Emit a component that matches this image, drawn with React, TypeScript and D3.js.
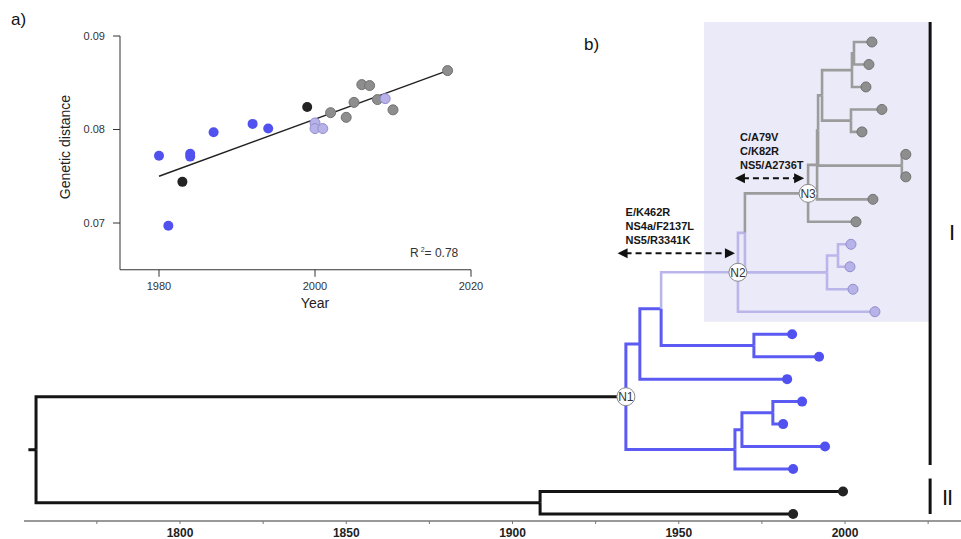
import * as d3 from 'd3';

// ---- panel a: root-to-tip regression ----
const scatterYears = [1980, 1981.2, 1983, 1984, 1984, 1987, 1992, 1994, 1999, 2000, 2000, 2001, 2002, 2004, 2005, 2006, 2007, 2008, 2009, 2010, 2017];
const scatterDist = [0.0772, 0.0697, 0.0744, 0.0771, 0.0774, 0.0797, 0.0806, 0.0801, 0.0824, 0.0807, 0.0801, 0.0801, 0.0818, 0.0813, 0.0829, 0.0848, 0.0847, 0.0832, 0.0833, 0.0821, 0.0863];
const scatterGroup = ['blue', 'blue', 'black', 'blue', 'blue', 'blue', 'blue', 'blue', 'black', 'lav', 'lav', 'lav', 'gray', 'gray', 'gray', 'gray', 'gray', 'gray', 'lav', 'gray', 'gray'];
const fitYears = [1980, 2017];
const fitDist = [0.075, 0.0863];
const scatterXTicks = [1980, 2000, 2020];
const scatterYTicks = [0.07, 0.08, 0.09];
const rSquared = '0.78';

// ---- panel b: time-scaled tree ----
// [id, parent, year, group]
const internalNodes: [string, string | null, number, string][] = [
  ['root', null, 1756.7, 'black'],
  ['N1', 'root', 1934.1, 'black'],
  ['S', 'root', 1908.3, 'black'],
  ['M', 'N1', 1938.3, 'blue'],
  ['P', 'N1', 1966.9, 'blue'],
  ['K', 'M', 1944.7, 'blue'],
  ['N2', 'K', 1967.8, 'lav'],
  ['L', 'K', 1972.6, 'blue'],
  ['B', 'N2', 1969.9, 'lav'],
  ['N3', 'B', 1988.9, 'gray'],
  ['C', 'B', 1994.6, 'lav'],
  ['D', 'C', 1997.9, 'lav'],
  ['E', 'N3', 1991.6, 'gray'],
  ['I', 'E', 1991.9, 'gray'],
  ['H', 'I', 1993.1, 'gray'],
  ['J', 'I', 2017.1, 'gray'],
  ['F2', 'H', 2002.1, 'gray'],
  ['G', 'H', 2001.8, 'gray'],
  ['F1', 'F2', 2002.7, 'gray'],
  ['Q', 'P', 1969.0, 'blue'],
  ['R', 'Q', 1978.3, 'blue'],
];
// tips, top to bottom
const tipNodes: [string, string, number, string][] = [
  ['t1', 'F1', 2008.1, 'gray'],
  ['t2', 'F1', 2007.2, 'gray'],
  ['t3', 'F2', 2006.3, 'gray'],
  ['t4', 'G', 2011.1, 'gray'],
  ['t5', 'G', 2005.1, 'gray'],
  ['t6', 'J', 2018.3, 'gray'],
  ['t7', 'J', 2018.3, 'gray'],
  ['t8', 'E', 2008.4, 'gray'],
  ['t9', 'N3', 2003.3, 'gray'],
  ['t10', 'D', 2001.8, 'lav'],
  ['t11', 'D', 2001.5, 'lav'],
  ['t12', 'C', 2002.4, 'lav'],
  ['t13', 'N2', 2009.0, 'lav'],
  ['t14', 'L', 1984.1, 'blue'],
  ['t15', 'L', 1992.2, 'blue'],
  ['t16', 'M', 1982.6, 'blue'],
  ['t17', 'R', 1987.1, 'blue'],
  ['t18', 'R', 1981.4, 'blue'],
  ['t19', 'Q', 1994.0, 'blue'],
  ['t20', 'P', 1984.4, 'blue'],
  ['t21', 'S', 1999.4, 'black'],
  ['t22', 'S', 1984.4, 'black'],
];
const labelledNodes = ['N1', 'N2', 'N3'];
const mutationsN2 = ['E/K462R', 'NS4a/F2137L', 'NS5/R3341K'];
const mutationsN3 = ['C/A79V', 'C/K82R', 'NS5/A2736T'];
const arrowN2 = [1931.6, 1966.9];
const arrowN3 = [1966.9, 1987.7];
const timeMajor = [1800, 1850, 1900, 1950, 2000];
const timeMinor = [1775, 1825, 1875, 1925, 1975, 2025];

const edgeColor: Record<string, string> = { black: '#141414', blue: '#5b5bf4', lav: '#bab6ea', gray: '#9c9c9c' };
const edgeWidth: Record<string, number> = { black: 3, blue: 3, lav: 2.6, gray: 2.6 };
const dotFill: Record<string, string> = { black: '#232323', blue: '#5151ef', lav: '#b7b3e8', gray: '#8e8e8e' };
const dotStroke: Record<string, string> = { black: 'none', blue: 'none', lav: '#928dd0', gray: '#727272' };

const FONT = '"Liberation Sans", Arial, Helvetica, sans-serif';

type TNode = d3.HierarchyNode<[string, string | null, number, string]> & { px?: number; py?: number };

export default function App() {
  const W = 961, H = 539;

  // scatter scales
  const sx = d3.scaleLinear().domain([1980, 2020]).range([159, 471]);
  const sy = d3.scaleLinear().domain([0.07, 0.09]).range([223, 36]);
  const axX0 = sx(1975), axY0 = sy(0.065);

  // tree scales
  const tx = d3.scaleLinear().domain([1800, 2000]).range([180, 845]);
  const ty = d3.scaleLinear().domain([0, tipNodes.length - 1]).range([42, 514]);
  const tipIndex = new Map(tipNodes.map((t, i) => [t[0], i]));

  const root = d3.stratify<[string, string | null, number, string]>()
    .id(d => d[0])
    .parentId(d => d[1])([...internalNodes, ...tipNodes]) as TNode;

  root.eachAfter((n: TNode) => {
    n.px = tx(n.data[2]);
    if (!n.children) {
      n.py = ty(tipIndex.get(n.data[0]) as number);
    } else {
      const ys = n.children.map((c: TNode) => c.py as number);
      n.py = ((d3.min(ys) as number) + (d3.max(ys) as number)) / 2;
    }
  });
  const nodes = root.descendants() as TNode[];
  const byId = new Map(nodes.map(n => [n.data[0], n]));
  const n2 = byId.get('N2') as TNode;
  const n3 = byId.get('N3') as TNode;

  const cladeX = tx(2025.6);
  const boxTop = ty(0) - 20;
  const boxBottom = ty(12) + 10;
  const axisY = 521;

  const arrow = (x0: number, x1: number, y: number, key: string) => (
    <g key={key}>
      <line x1={x0 + 8} x2={x1 - 8} y1={y} y2={y} stroke="#111" strokeWidth={2} strokeDasharray="6,4" />
      <path d={`M${x0},${y}L${x0 + 10},${y - 5}L${x0 + 10},${y + 5}Z`} fill="#111" />
      <path d={`M${x1},${y}L${x1 - 10},${y - 5}L${x1 - 10},${y + 5}Z`} fill="#111" />
    </g>
  );

  const mutText = (lines: string[], x: number, yArrow: number, key: string) => (
    <text key={key} x={x} fontFamily={FONT} fontSize={11} fontWeight="bold" fill="#161616">
      {lines.map((l, i) => (
        <tspan key={l} x={x} y={yArrow - 37 + i * 14}>{l}</tspan>
      ))}
    </text>
  );

  const yArrowN2 = (n2.py as number) - 19;
  const yArrowN3 = (n3.py as number) - 15;

  return (
    <svg width={W} height={H} style={{ position: 'absolute', left: 0, top: 0, background: '#fff' }} fontFamily={FONT}>
      {/* ---------- panel a ---------- */}
      <text x={11} y={25} fontSize={17} fill="#111">a)</text>
      <line x1={axX0} x2={axX0} y1={sy(0.09)} y2={axY0} stroke="#333" strokeWidth={1} />
      <line x1={axX0} x2={sx(2020)} y1={axY0} y2={axY0} stroke="#333" strokeWidth={1} />
      {scatterYTicks.map(t => (
        <g key={t}>
          <line x1={axX0 - 7} x2={axX0} y1={sy(t)} y2={sy(t)} stroke="#333" />
          <text x={axX0 - 15} y={sy(t)} dy="0.35em" textAnchor="end" fontSize={11} fill="#333">{d3.format('.2f')(t)}</text>
        </g>
      ))}
      {scatterXTicks.map(t => (
        <g key={t}>
          <line x1={sx(t)} x2={sx(t)} y1={axY0} y2={axY0 + 7} stroke="#333" />
          <text x={sx(t)} y={axY0 + 20} textAnchor="middle" fontSize={11} fill="#333">{t}</text>
        </g>
      ))}
      <text transform={`translate(70,147) rotate(-90)`} textAnchor="middle" fontSize={14} fill="#222">Genetic distance</text>
      <text x={315} y={308} textAnchor="middle" fontSize={14} fill="#222">Year</text>
      <line x1={sx(fitYears[0])} y1={sy(fitDist[0])} x2={sx(fitYears[1])} y2={sy(fitDist[1])} stroke="#222" strokeWidth={1.5} />
      {scatterYears.map((yr, i) => (
        <circle key={i} cx={sx(yr)} cy={sy(scatterDist[i])} r={5}
          fill={dotFill[scatterGroup[i]]} stroke={dotStroke[scatterGroup[i]]} strokeWidth={1} />
      ))}
      <text x={410} y={257} fontSize={12} fill="#333">
        <tspan>R</tspan>
        <tspan dx={2} dy={-5} fontSize={7}>2</tspan>
        <tspan dy={5}>= {rSquared}</tspan>
      </text>

      {/* ---------- panel b ---------- */}
      <text x={584} y={50} fontSize={17} fill="#111">b)</text>
      <rect x={tx(1957.6)} y={boxTop} width={cladeX - tx(1957.6)} height={boxBottom - boxTop} fill="#ebeaf8" />

      {/* time axis */}
      <line x1={24} x2={W} y1={axisY} y2={axisY} stroke="#777" strokeWidth={1.5} />
      {[...timeMajor, ...timeMinor].map(t => (
        <line key={t} x1={tx(t)} x2={tx(t)} y1={axisY} y2={axisY + 3} stroke="#777" strokeWidth={1} />
      ))}
      {timeMajor.map(t => (
        <text key={t} x={tx(t)} y={537} textAnchor="middle" fontSize={12} fontWeight="bold" fill="#222">{t}</text>
      ))}

      {/* root stub */}
      <line x1={tx(1754.4)} x2={root.px} y1={root.py} y2={root.py} stroke={edgeColor.black} strokeWidth={3} />
      {nodes.filter(n => n.parent).map(n => {
        const p = n.parent as TNode;
        const g = n.data[3];
        return (
          <path key={n.data[0]} d={`M${p.px},${p.py}V${n.py}H${n.px}`} fill="none"
            stroke={edgeColor[g]} strokeWidth={edgeWidth[g]} strokeLinejoin="miter" />
        );
      })}
      {nodes.filter(n => !n.children).map(n => (
        <circle key={n.data[0]} cx={n.px} cy={n.py} r={5}
          fill={dotFill[n.data[3]]} stroke={dotStroke[n.data[3]]} strokeWidth={1} />
      ))}
      {labelledNodes.map(id => {
        const n = byId.get(id) as TNode;
        return (
          <g key={id}>
            <circle cx={n.px} cy={n.py} r={9} fill="#fff" stroke="#8a8a8a" strokeWidth={1} />
            <text x={n.px} y={n.py} dy="0.36em" textAnchor="middle" fontSize={12} fill="#333">{id}</text>
          </g>
        );
      })}

      {/* mutations */}
      {arrow(tx(arrowN2[0]), tx(arrowN2[1]), yArrowN2, 'a2')}
      {mutText(mutationsN2, tx(arrowN2[0]) + 8, yArrowN2, 'm2')}
      {arrow(tx(arrowN3[0]), tx(arrowN3[1]), yArrowN3, 'a3')}
      {mutText(mutationsN3, tx(arrowN3[0]) + 5, yArrowN3, 'm3')}

      {/* clade bars */}
      <line x1={cladeX} x2={cladeX} y1={boxTop} y2={ty(19) - 4} stroke="#111" strokeWidth={3} />
      <line x1={cladeX} x2={cladeX} y1={ty(20) - 13} y2={ty(21)} stroke="#111" strokeWidth={3} />
      <text x={952} y={232} dy="0.35em" textAnchor="middle" fontSize={22} fill="#111">I</text>
      <text x={947} y={497} dy="0.35em" textAnchor="middle" fontSize={22} fill="#111" letterSpacing={-1}>II</text>
    </svg>
  );
}
